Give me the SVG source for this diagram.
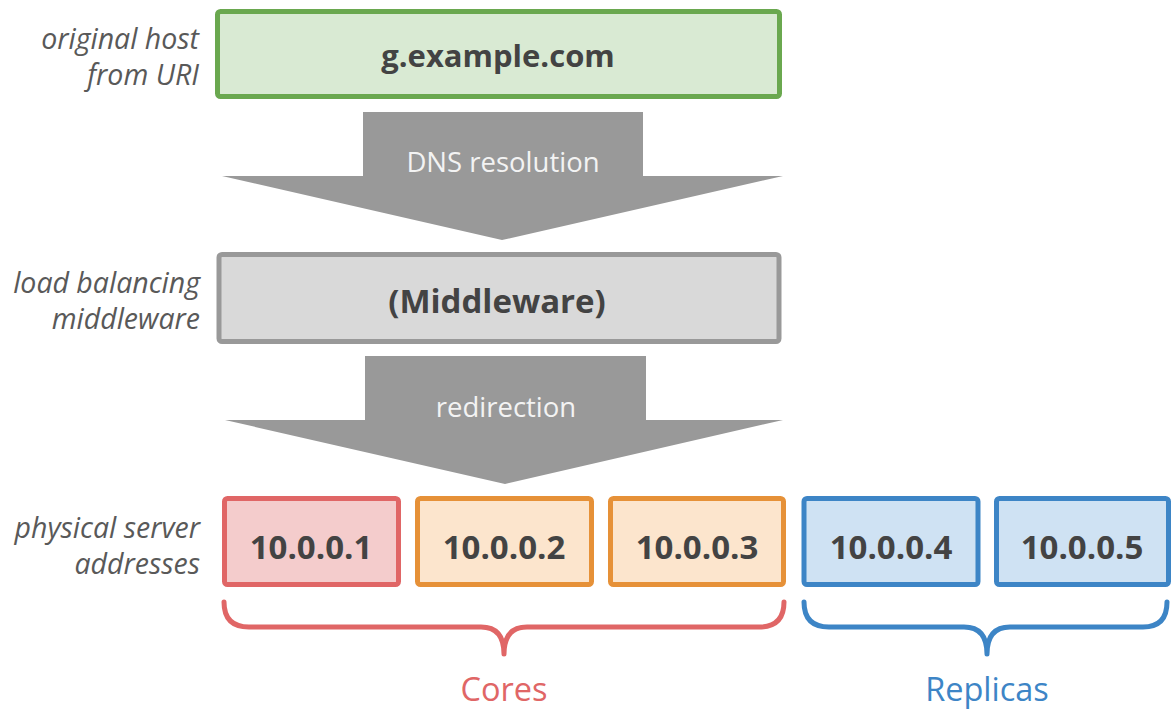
<svg xmlns="http://www.w3.org/2000/svg" width="1171" height="709" viewBox="0 0 1171 709">
<style>
.lbl{font-family:"Open Sans","Liberation Sans",sans-serif;font-style:italic;font-size:28.5px;fill:#595959;text-anchor:end}
.box{stroke-width:5}
.bt{font-family:"Open Sans","Liberation Sans",sans-serif;font-weight:bold;font-size:33px;fill:#434343;text-anchor:middle}
.at{font-family:"Open Sans","Liberation Sans",sans-serif;font-size:27.5px;fill:#f3f3f3;text-anchor:middle}
.arrow{fill:#999999}
.brace{fill:none;stroke-width:5;stroke-linecap:round;stroke-linejoin:round}
.bl{font-family:"Open Sans","Liberation Sans",sans-serif;font-size:32.5px;text-anchor:middle}
</style>
<g id="labels">
<text class="lbl" x="199" y="49">original host</text>
<text class="lbl" x="199" y="85">from URI</text>
<text class="lbl" x="200" y="293">load balancing</text>
<text class="lbl" x="200" y="329">middleware</text>
<text class="lbl" x="200" y="538">physical server</text>
<text class="lbl" x="200" y="574">addresses</text>
</g>
<g id="host">
<rect class="box" x="217.5" y="11.5" width="562" height="85" rx="3" fill="#d9ead3" stroke="#6aa84f"/>
<text class="bt" x="498" y="67" style="font-size:31px">g.example.com</text>
</g>
<g id="connectors">
<g id="dns">
<polygon class="arrow" points="363,112 643,112 643,176 783,176 502,240 222,176 363,176"/>
<text class="at" x="503" y="172">DNS resolution</text>
</g>
<g id="redirect">
<polygon class="arrow" points="365,356 646,356 646,420 783,420 505,484 225,420 365,420"/>
<text class="at" x="506" y="417">redirection</text>
</g>
</g>
<g id="middleware">
<rect class="box" x="219" y="254.5" width="560" height="87" rx="3" fill="#d9d9d9" stroke="#999999"/>
<text class="bt" x="497" y="313">(Middleware)</text>
</g>
<g id="s1">
<rect class="box" x="224.5" y="498.5" width="174" height="86" rx="3" fill="#f4cccc" stroke="#e06666"/>
<text class="bt" x="311" y="559">10.0.0.1</text>
</g>
<g id="s2">
<rect class="box" x="417.5" y="498.5" width="174" height="86" rx="3" fill="#fce5cd" stroke="#e69138"/>
<text class="bt" x="504" y="559">10.0.0.2</text>
</g>
<g id="s3">
<rect class="box" x="610.5" y="498.5" width="173" height="86" rx="3" fill="#fce5cd" stroke="#e69138"/>
<text class="bt" x="697" y="559">10.0.0.3</text>
</g>
<g id="s4">
<rect class="box" x="804" y="498.5" width="174" height="86" rx="3" fill="#cfe2f3" stroke="#3d85c6"/>
<text class="bt" x="891" y="559">10.0.0.4</text>
</g>
<g id="s5">
<rect class="box" x="996.5" y="498.5" width="172" height="86" rx="3" fill="#cfe2f3" stroke="#3d85c6"/>
<text class="bt" x="1082" y="559">10.0.0.5</text>
</g>
<g id="cores">
<path class="brace" stroke="#e06666" d="M224,602 Q224,627 249,627 H481 Q504,627 504,654 Q504,627 527,627 H759 Q784,627 784,602"/>
<text class="bl" x="504" y="701" fill="#e06666">Cores</text>
</g>
<g id="replicas">
<path class="brace" stroke="#3d85c6" d="M804,602 Q804,627 829,627 H964 Q987,627 987,654 Q987,627 1010,627 H1143 Q1167,627 1167,602"/>
<text class="bl" x="987" y="701" fill="#3d85c6">Replicas</text>
</g>
</svg>
